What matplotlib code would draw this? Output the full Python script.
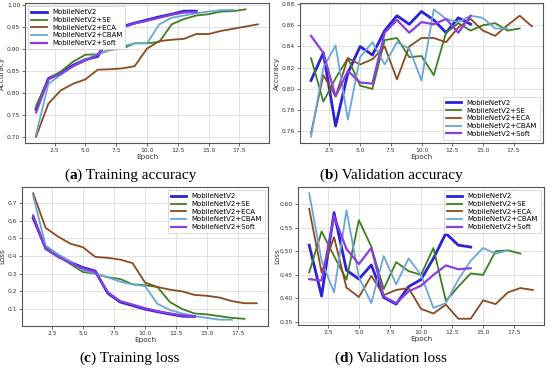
import matplotlib
matplotlib.use("Agg")
import matplotlib.pyplot as plt
from matplotlib.offsetbox import TextArea, HPacker, AnchoredOffsetbox

names = ["MobileNetV2", "MobileNetV2+SE", "MobileNetV2+ECA", "MobileNetV2+CBAM", "MobileNetV2+Soft"]
colors = ["#2a22d6", "#3f7f1f", "#8b4a1f", "#6aa6d8", "#8a3ee0"]
widths = [2.0, 1.3, 1.3, 1.3, 1.6]

# (a) Training accuracy
train_acc_base = [0.762, 0.832, 0.845, 0.862, 0.875, 0.882, 0.930, 0.950, 0.958, 0.965, 0.972, 0.978, 0.985, 0.985]
train_acc_se = [0.770, 0.830, 0.848, 0.870, 0.886, 0.887, 0.897, 0.900, 0.912, 0.912, 0.915, 0.955, 0.967, 0.975, 0.978, 0.984, 0.985, 0.989]
train_acc_eca = [0.700, 0.775, 0.805, 0.820, 0.830, 0.852, 0.853, 0.855, 0.860, 0.900, 0.917, 0.920, 0.922, 0.933, 0.933, 0.940, 0.945, 0.950, 0.955]
train_acc_cbam = [0.705, 0.820, 0.840, 0.860, 0.875, 0.888, 0.897, 0.905, 0.912, 0.912, 0.955, 0.970, 0.975, 0.980, 0.984, 0.987, 0.988]
train_acc_soft = [0.755, 0.830, 0.843, 0.860, 0.873, 0.885, 0.928, 0.948, 0.957, 0.963, 0.970, 0.977, 0.982, 0.983]

# (b) Validation accuracy
val_acc_base = [0.808, 0.834, 0.765, 0.815, 0.840, 0.832, 0.855, 0.869, 0.861, 0.873, 0.865, 0.853, 0.867, 0.861]
val_acc_se = [0.829, 0.788, 0.810, 0.829, 0.803, 0.800, 0.846, 0.848, 0.830, 0.831, 0.813, 0.853, 0.862, 0.855, 0.860, 0.862, 0.855, 0.857]
val_acc_eca = [0.758, 0.813, 0.793, 0.829, 0.823, 0.828, 0.840, 0.809, 0.840, 0.848, 0.848, 0.844, 0.858, 0.866, 0.855, 0.850, 0.860, 0.869, 0.859]
val_acc_cbam = [0.755, 0.820, 0.841, 0.771, 0.830, 0.844, 0.823, 0.844, 0.838, 0.808, 0.875, 0.866, 0.863, 0.869, 0.867, 0.857, 0.857]
val_acc_soft = [0.850, 0.834, 0.793, 0.817, 0.806, 0.805, 0.853, 0.865, 0.853, 0.863, 0.861, 0.866, 0.853, 0.869]

# (c) Training loss
train_loss_base = [0.615, 0.445, 0.400, 0.365, 0.335, 0.315, 0.190, 0.140, 0.120, 0.100, 0.085, 0.072, 0.060, 0.058]
train_loss_se = [0.625, 0.445, 0.400, 0.355, 0.310, 0.300, 0.280, 0.270, 0.240, 0.235, 0.225, 0.140, 0.100, 0.075, 0.070, 0.060, 0.050, 0.045]
train_loss_eca = [0.755, 0.560, 0.510, 0.470, 0.450, 0.395, 0.390, 0.380, 0.360, 0.250, 0.225, 0.210, 0.200, 0.180, 0.175, 0.165, 0.145, 0.133, 0.133]
train_loss_cbam = [0.740, 0.460, 0.410, 0.370, 0.320, 0.300, 0.280, 0.255, 0.240, 0.230, 0.130, 0.095, 0.075, 0.060, 0.050, 0.040, 0.040]
train_loss_soft = [0.630, 0.440, 0.395, 0.360, 0.330, 0.310, 0.195, 0.145, 0.125, 0.105, 0.088, 0.075, 0.065, 0.060]

# (d) Validation loss
val_loss_base = [0.513, 0.405, 0.582, 0.460, 0.441, 0.471, 0.402, 0.388, 0.425, 0.440, 0.485, 0.538, 0.513, 0.509]
val_loss_se = [0.455, 0.542, 0.490, 0.440, 0.566, 0.510, 0.420, 0.477, 0.458, 0.450, 0.507, 0.395, 0.425, 0.453, 0.450, 0.500, 0.502, 0.495]
val_loss_eca = [0.590, 0.455, 0.530, 0.423, 0.403, 0.448, 0.407, 0.418, 0.422, 0.378, 0.368, 0.387, 0.357, 0.357, 0.396, 0.388, 0.413, 0.422, 0.418]
val_loss_cbam = [0.623, 0.480, 0.413, 0.587, 0.445, 0.390, 0.490, 0.430, 0.485, 0.450, 0.380, 0.390, 0.440, 0.480, 0.507, 0.495, 0.502]
val_loss_soft = [0.441, 0.438, 0.575, 0.505, 0.473, 0.507, 0.404, 0.390, 0.415, 0.427, 0.450, 0.470, 0.462, 0.464]

panels = [
    ([train_acc_base, train_acc_se, train_acc_eca, train_acc_cbam, train_acc_soft], "Accuracy", "upper left",
     [25, 3, 269, 143], "a", " Training accuracy", 130, 175, 5),
    ([val_acc_base, val_acc_se, val_acc_eca, val_acc_cbam, val_acc_soft], "Accuracy", "lower right",
     [300, 3, 543, 143], "b", " Validation accuracy", 391, 175, 280),
    ([train_loss_base, train_loss_se, train_loss_eca, train_loss_cbam, train_loss_soft], "Loss", "upper right",
     [22, 187, 268, 326], "c", " Training loss", 129, 358, 5),
    ([val_loss_base, val_loss_se, val_loss_eca, val_loss_cbam, val_loss_soft], "Loss", "upper right",
     [298, 187, 544, 325], "d", " Validation loss", 391, 358, 280),
]

W, H = 550, 368
fig = plt.figure(figsize=(W / 100, H / 100), dpi=100)

for series, ylab, loc, (l, t, r, b), tag, cap, cx, cy, ylx in panels:
    ax = fig.add_axes([l / W, 1 - b / H, (r - l) / W, (b - t) / H])
    for s, name, c, lw in zip(series, names, colors, widths):
        ax.plot(range(1, len(s) + 1), s, color=c, lw=lw, label=name)
    ax.grid(True, color="#dddddd", lw=0.6)
    ax.set_axisbelow(True)
    ax.tick_params(labelsize=4.3, length=2, width=0.5, pad=1.5, colors="#333333")
    ax.set_xlabel("Epoch", fontsize=5.2, labelpad=1, color="#333333")
    ax.set_ylabel(ylab, fontsize=5.2, color="#333333")
    ax.yaxis.set_label_coords((ylx - l) / (r - l), 0.5)
    for sp in ax.spines.values():
        sp.set_color("#555555")
        sp.set_linewidth(0.8)
    ax.set_xticks([2.5, 5.0, 7.5, 10.0, 12.5, 15.0, 17.5])
    leg = ax.legend(loc=loc, fontsize=5, handlelength=2.2, borderpad=0.4,
                    labelspacing=0.25, framealpha=1, edgecolor="#cccccc", fancybox=False)
    leg.get_frame().set_linewidth(0.5)

    parts = [TextArea("(", textprops=dict(family="Liberation Serif", fontsize=11)),
             TextArea(tag, textprops=dict(family="Liberation Serif", fontsize=11, weight="bold")),
             TextArea(")" + cap, textprops=dict(family="Liberation Serif", fontsize=11))]
    box = HPacker(children=parts, align="baseline", pad=0, sep=0)
    ab = AnchoredOffsetbox(loc="center", child=box, frameon=False,
                           bbox_to_anchor=(cx / W, 1 - cy / H), bbox_transform=fig.transFigure,
                           pad=0, borderpad=0)
    fig.add_artist(ab)

fig.savefig("out.png", dpi=100)
